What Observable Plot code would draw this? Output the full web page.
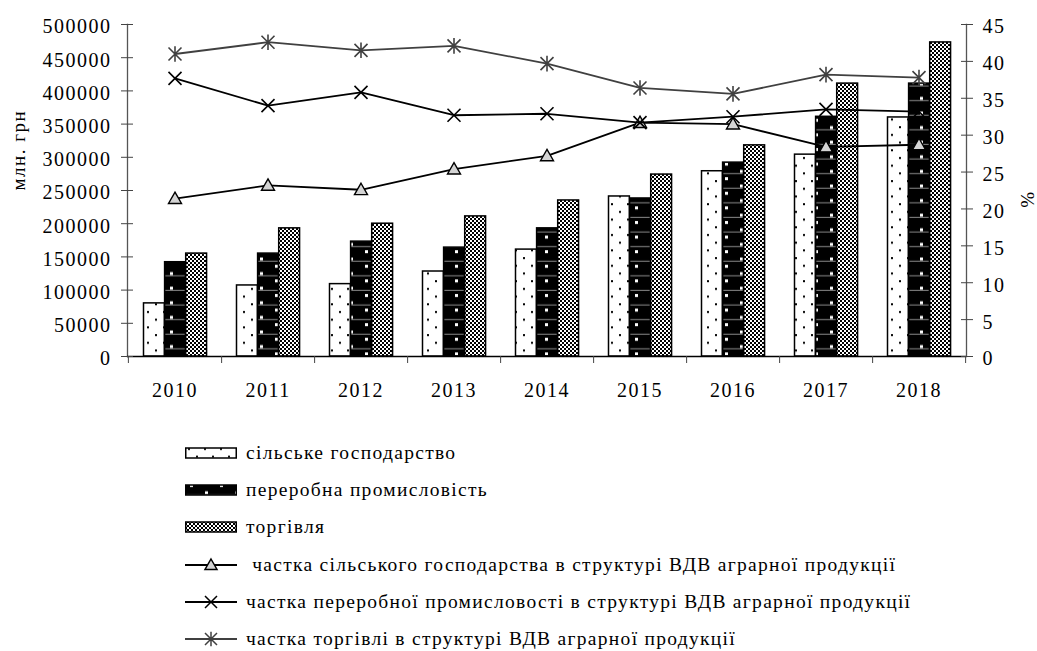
<!DOCTYPE html>
<html><head><meta charset="utf-8">
<script src="https://cdn.jsdelivr.net/npm/d3@7"></script>
<script src="https://cdn.jsdelivr.net/npm/@observablehq/plot@0.6"></script>
<style>
body{margin:0;background:#fff;font-family:"Liberation Serif","Times New Roman",serif;color:#000;}
#legend{margin-top:4.5px;}
.row{display:flex;align-items:center;height:37.2px;padding-left:185px;font-size:19.5px;letter-spacing:1.3px;white-space:pre;}
.row svg{flex:none;margin-right:9px;}
</style></head><body>
<svg width="0" height="0" style="position:absolute"><defs>
<pattern id="pDots" patternUnits="userSpaceOnUse" width="16" height="15.4">
<rect width="16" height="15.4" fill="#fff"/><rect x="3" y="3" width="2" height="2" fill="#000"/><rect x="11" y="10.7" width="2" height="2" fill="#000"/>
</pattern>
<pattern id="pProc" patternUnits="userSpaceOnUse" width="30" height="14.6">
<rect width="30" height="14.6" fill="#000"/><rect x="5" y="2" width="3" height="3" fill="#fff"/><rect x="20" y="9.3" width="3" height="3" fill="#fff"/><rect x="0" y="12.5" width="30" height="1" fill="#8a8a8a"/>
</pattern>
<pattern id="pTrade" patternUnits="userSpaceOnUse" width="4" height="4">
<rect width="4" height="4" fill="#fff" shape-rendering="crispEdges"/><rect width="2" height="2" fill="#000" shape-rendering="crispEdges"/><rect x="2" y="2" width="2" height="2" fill="#000" shape-rendering="crispEdges"/>
</pattern>
</defs></svg>
<div id="chart"></div><div id="legend"></div>
<script>
const years = ["2010","2011","2012","2013","2014","2015","2016","2017","2018"];
const agri  = [80000, 107000, 109000, 128000, 161000, 241000, 279000, 304000, 360000];
const proc  = [142000, 155000, 173000, 164000, 193000, 238000, 292000, 361000, 411000];
const trade = [155000, 193000, 200000, 211000, 235000, 274000, 318000, 411000, 473000];
const shareAgri  = [21.4, 23.2, 22.6, 25.4, 27.2, 31.7, 31.5, 28.4, 28.7];
const shareProc  = [37.7, 34.0, 35.8, 32.7, 32.9, 31.7, 32.5, 33.5, 33.2];
const shareTrade = [41.0, 42.6, 41.5, 42.1, 39.7, 36.4, 35.6, 38.2, 37.8];
const leftTicks  = [0,50000,100000,150000,200000,250000,300000,350000,400000,450000,500000];
const rightTicks = [0,5,10,15,20,25,30,35,40,45];
const leftLabel = "млн. грн";
const rightLabel = "%";
const legendLabels = [
  "сільське господарство",
  "переробна промисловість",
  "торгівля",
  " частка сільського господарства в структурі ВДВ аграрної продукції",
  "частка переробної промисловості в структурі ВДВ аграрної продукції",
  "частка торгівлі в структурі ВДВ аграрної продукції"
];

const K = 500000/45;
const W = 1037, ML = 127, MR = 71, MT = 24, MB = 74, H = 430;
const bw = (W - ML - MR) / years.length;
const g0 = 15.5, barW = 21.1;
const rows = vals => years.map((y,i)=>({year:y, value:vals[i]}));
const pct = vals => years.map((y,i)=>({year:y, value:vals[i]*K}));

const rOf = size => Math.sqrt(size/Math.PI);
const triSym = {draw(c,s){const r=rOf(s); c.moveTo(0,-r); c.lineTo(r,0.75*r); c.lineTo(-r,0.75*r); c.closePath();}};
const timesSym = {draw(c,s){const r=rOf(s); c.moveTo(-r,-r); c.lineTo(r,r); c.moveTo(-r,r); c.lineTo(r,-r);}};
const starSym = {draw(c,s){const r=rOf(s); c.moveTo(-r,-r); c.lineTo(r,r); c.moveTo(-r,r); c.lineTo(r,-r); c.moveTo(0,-r*1.2); c.lineTo(0,r*1.2);}};

const fills = ["url(#pDots)","url(#pProc)","url(#pTrade)"];
const barSets = [agri, proc, trade];
const barMarks = barSets.map((vals,i)=>Plot.barY(rows(vals), {
  x:"year", y:"value", fill: fills[i], stroke:"#000", strokeWidth:1.5,
  insetLeft: g0 + i*barW, insetRight: bw - g0 - (i+1)*barW
}));

const rightVals = rightTicks.map(v=>v*K);
const chart = Plot.plot({
  width: W, height: H,
  marginLeft: ML, marginRight: MR, marginTop: MT, marginBottom: MB,
  x: {type:"band", domain: years, padding: 0, axis: null},
  y: {domain:[0,500000], axis: null},
  style: {fontFamily:'"Liberation Serif","Times New Roman",serif', fontSize:"20px", letterSpacing:"1.5px", color:"#000", background:"#fff", overflow:"visible"},
  marks: [
    ...barMarks,
    Plot.frame({anchor:"left", stroke:"#555", strokeWidth:1.3}),
    Plot.frame({anchor:"right", stroke:"#555", strokeWidth:1.3}),
    Plot.ruleY([0], {stroke:"#000", strokeWidth:1.5}),
    Plot.axisY({anchor:"left", ticks:leftTicks, tickSize:12, dx:6, stroke:"#444", tickFormat:()=>"", label:null}),
    Plot.axisY({anchor:"left", ticks:leftTicks, tickSize:0, tickPadding:16, dy:2.5, tickFormat:d=>String(d), label:null}),
    Plot.axisY({anchor:"right", ticks:rightVals, tickSize:12, dx:-6, stroke:"#444", tickFormat:()=>"", label:null}),
    Plot.axisY({anchor:"right", ticks:rightVals, tickSize:0, tickPadding:16, dy:2.5, tickFormat:d=>String(Math.round(d/K)), label:null}),
    Plot.axisX({anchor:"bottom", tickSize:7, tickFormat:()=>"", dx: bw/2, stroke:"#444", label:null}),
    Plot.axisX({anchor:"bottom", ticks:[years[0]], tickSize:7, tickFormat:()=>"", dx: -bw/2, stroke:"#444", label:null}),
    Plot.axisX({anchor:"bottom", tickSize:0, tickPadding:26, label:null}),
    Plot.line(pct(shareAgri), {x:"year", y:"value", stroke:"#000", strokeWidth:1.8}),
    Plot.dot(pct(shareAgri), {x:"year", y:"value", symbol: triSym, r:6.5, fill:"#d4d4d4", stroke:"#000", strokeWidth:1.4}),
    Plot.line(pct(shareProc), {x:"year", y:"value", stroke:"#000", strokeWidth:1.8}),
    Plot.dot(pct(shareProc), {x:"year", y:"value", symbol: timesSym, r:6.5, fill:"none", stroke:"#000", strokeWidth:1.6}),
    Plot.line(pct(shareTrade), {x:"year", y:"value", stroke:"#404040", strokeWidth:1.8}),
    Plot.dot(pct(shareTrade), {x:"year", y:"value", symbol: starSym, r:6.5, fill:"none", stroke:"#404040", strokeWidth:1.6}),
    Plot.text([leftLabel], {frameAnchor:"left", dx: 18-ML, rotate:-90, fontSize:19}),
    Plot.text([rightLabel], {frameAnchor:"right", dx: 1027-(W-MR), rotate:-90, fontSize:19})
  ]
});
document.getElementById("chart").appendChild(chart);

// legend
const legendTypes = [
  {kind:"bar", fill:fills[0]},
  {kind:"bar", fill:fills[1]},
  {kind:"bar", fill:fills[2]},
  {kind:"line", stroke:"#000", sym:"tri"},
  {kind:"line", stroke:"#000", sym:"times"},
  {kind:"line", stroke:"#404040", sym:"star"}
];
const leg = document.getElementById("legend");
legendTypes.forEach((t,i)=>{
  const row = document.createElement("div"); row.className="row";
  const s = d3.create("svg").attr("width",52).attr("height",16);
  if (t.kind==="bar") {
    s.append("rect").attr("x",0.75).attr("y",3).attr("width",50.5).attr("height",10)
      .attr("fill",t.fill).attr("stroke","#000").attr("stroke-width",1.5);
  } else {
    s.append("line").attr("x1",0).attr("x2",52).attr("y1",8).attr("y2",8).attr("stroke",t.stroke).attr("stroke-width",1.8);
    const r = 6;
    let d;
    if (t.sym==="tri") d = `M26,${8-r}L${26+r},${8+0.75*r}L${26-r},${8+0.75*r}Z`;
    else if (t.sym==="times") d = `M${26-r},${8-r}L${26+r},${8+r}M${26-r},${8+r}L${26+r},${8-r}`;
    else d = `M${26-r},${8-r}L${26+r},${8+r}M${26-r},${8+r}L${26+r},${8-r}M26,${8-r*1.2}L26,${8+r*1.2}`;
    s.append("path").attr("d",d).attr("fill",t.sym==="tri"?"#d4d4d4":"none").attr("stroke",t.stroke).attr("stroke-width",1.5);
  }
  row.appendChild(s.node());
  const span = document.createElement("span"); span.textContent = legendLabels[i];
  row.appendChild(span);
  leg.appendChild(row);
});
</script>
</body></html>
